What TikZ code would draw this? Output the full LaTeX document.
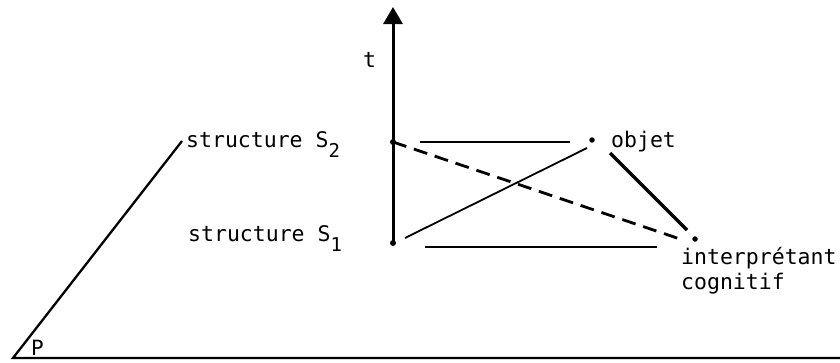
\documentclass[tikz,border=0pt]{standalone}
\usepackage{fontspec}
\setmonofont{DejaVu Sans Mono}
\usetikzlibrary{arrows.meta}
\tikzset{
  lbl/.style={font=\ttfamily\fontsize{21.5}{25}\selectfont, inner sep=0pt, anchor=base west},
  dot/.style={circle, fill=black, inner sep=0pt, minimum size=6pt},
  axis/.style={line width=3pt, -{Triangle[length=17pt,width=19pt]}},
  plane/.style={line width=2.3pt},
  rel/.style={line width=2.6pt},
  thinrel/.style={line width=1.8pt},
  thickrel/.style={line width=3.4pt},
  dashrel/.style={line width=2.8pt, dash pattern=on 14pt off 8pt}
}
\newcommand{\subs}[1]{\raisebox{-0.5em}{\fontsize{19}{21}\selectfont #1}}
\begin{document}
\begin{tikzpicture}[x=1pt,y=-1pt]
\useasboundingbox (0,0) rectangle (840,362);
% plane
\coordinate (pl) at (13,358);
\coordinate (pt) at (182,141);
\coordinate (pr) at (840,358);
\draw[plane] (pt) -- (pl) -- (pr);
\node[lbl, font=\ttfamily\fontsize{21}{23}\selectfont] (P) at (31,355) {P};
% axis
\node[dot] (s2) at (393,142) {};
\node[dot] (s1) at (393,243) {};
\coordinate (top) at (393,7);
\draw[axis] (s1.center) -- (top);
\node[lbl] (t) at (363,67) {t};
% labels
\node[lbl] (S2) at (186,147) {structure S\subs{2}};
\node[lbl] (S1) at (188,241) {structure S\subs{1}};
\node[dot, minimum size=5.5pt] (ob) at (592,140) {};
\node[lbl] (objet) at (611,147) {objet};
\node[dot, minimum size=5.5pt] (in) at (695,239) {};
\node[lbl, align=left, anchor=north west] (intxt) at (681,247) {interprétant\\cognitif};
% relation lines
\coordinate (h1a) at (420,142);
\coordinate (h1b) at (570,142);
\draw[rel] (h1a) -- (h1b);
\coordinate (h2a) at (425,247);
\coordinate (h2b) at (657,247);
\draw[rel] (h2a) -- (h2b);
\coordinate (d1a) at (405,238);
\coordinate (d1b) at (587,148);
\draw[thinrel] (d1a) -- (d1b);
\coordinate (d2a) at (610,153);
\coordinate (d2b) at (687,230);
\draw[thickrel] (d2a) -- (d2b);
\coordinate (d3b) at (680,239);
\draw[dashrel] (s2.center) -- (d3b);
\end{tikzpicture}
\end{document}
